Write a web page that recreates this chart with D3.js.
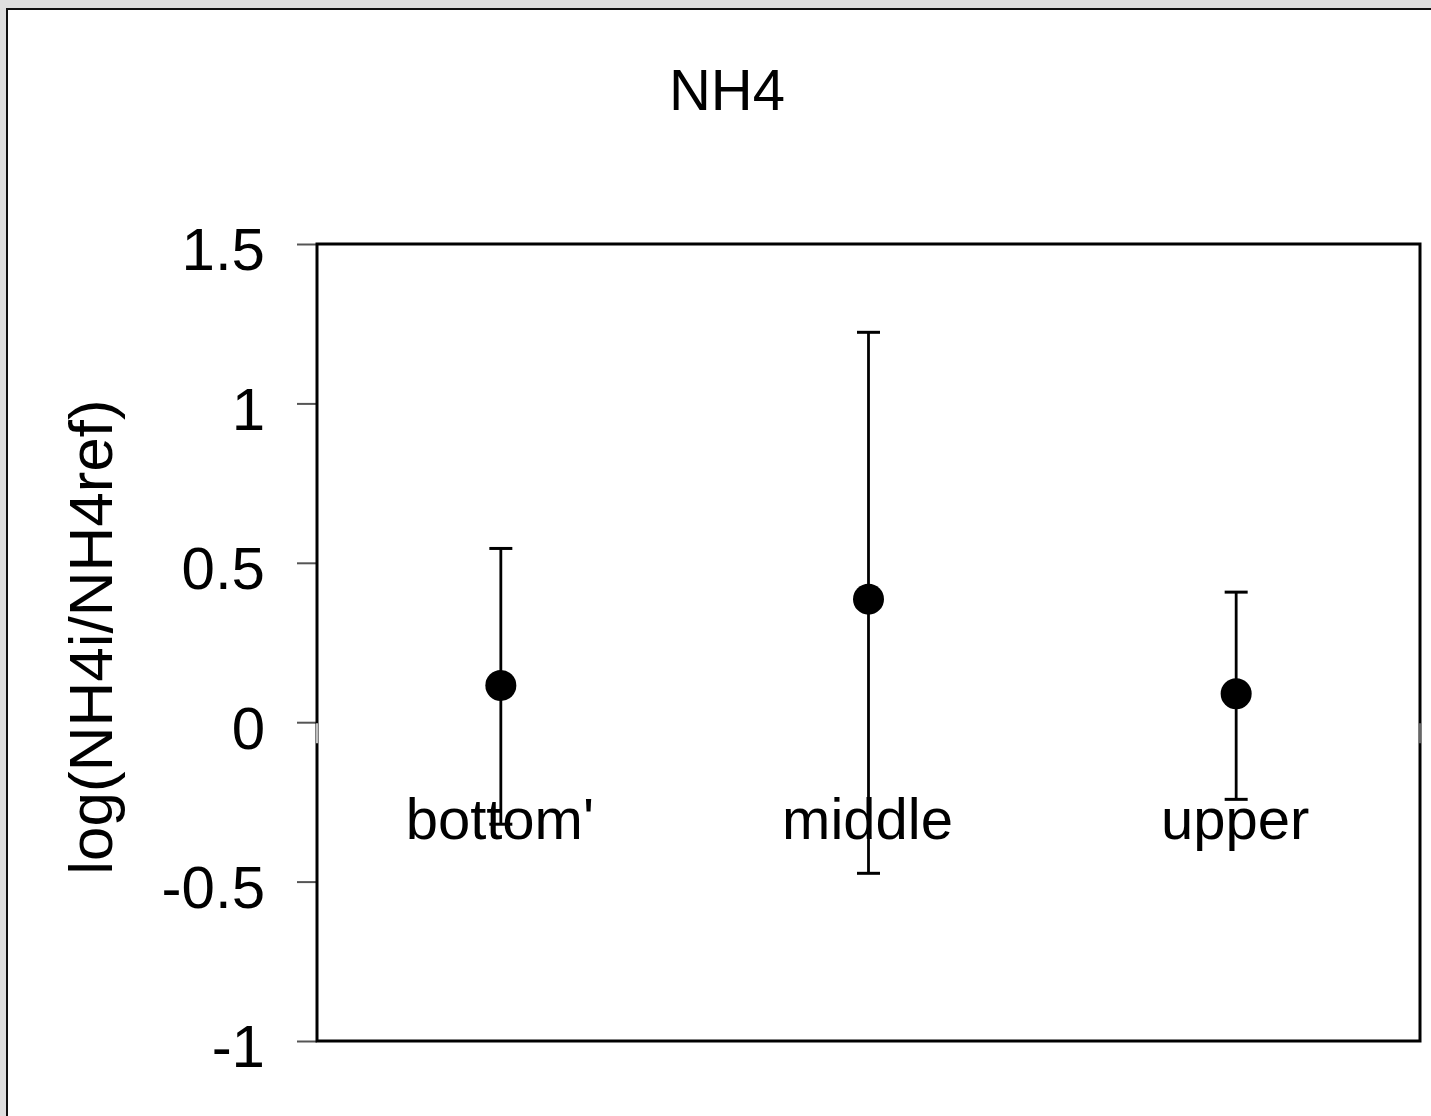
<!DOCTYPE html>
<html>
<head>
<meta charset="utf-8">
<script src="https://cdn.jsdelivr.net/npm/d3@7"></script>
<style>
  html, body { margin: 0; padding: 0; background: #dfdfdf; overflow: hidden; }
  svg { display: block; }
  text { font-family: "Liberation Sans", Arial, sans-serif; fill: #000; }
</style>
</head>
<body>
<script>
// Mean log ratio per layer with its lower / upper error limits
const categories = ["bottom'", "middle", "upper"];
const means = [0.115, 0.386, 0.089];
const lowers = [-0.32, -0.474, -0.242];
const uppers = [0.545, 1.223, 0.408];
const yTicks = [-1, -0.5, 0, 0.5, 1, 1.5];
const yTickLabels = ["-1", "-0.5", "0", "0.5", "1", "1.5"];
const title = "NH4";
const yLabel = "log(NH4i/NH4ref)";

const W = 1431, H = 1116;
const plot = { left: 317, right: 1420, top: 244, bottom: 1041 };

const svg = d3.select("body").append("svg").attr("width", W).attr("height", H);

// white sheet with a dark frame on top/left
svg.append("rect")
  .attr("x", 7).attr("y", 9).attr("width", W + 40).attr("height", H + 40)
  .attr("fill", "#fff").attr("stroke", "#111").attr("stroke-width", 2);

const x = d3.scaleBand().domain(categories).range([plot.left, plot.right]);
const y = d3.scaleLinear().domain([-1, 1.5]).range([plot.bottom, plot.top]);

// title
svg.append("text")
  .attr("x", 727).attr("y", 110)
  .attr("text-anchor", "middle")
  .attr("font-size", 58)
  .text(title);

// y axis ticks and labels
const yAxis = d3.axisLeft(y)
  .tickValues(yTicks)
  .tickSize(20)
  .tickPadding(32)
  .tickFormat((d, i) => yTickLabels[i]);
const gy = svg.append("g").attr("transform", `translate(${plot.left},0)`).call(yAxis);
gy.select(".domain").remove();
gy.selectAll(".tick line").attr("stroke", "#555").attr("stroke-width", 2);
gy.selectAll(".tick text")
  .attr("font-size", 60)
  .attr("font-family", "Liberation Sans, Arial, sans-serif")
  .attr("fill", "#000")
  .attr("dy", "0.43em");

// y axis title
svg.append("text")
  .attr("transform", `translate(112,637) rotate(-90)`)
  .attr("text-anchor", "middle")
  .attr("font-size", 62)
  .text(yLabel);

// category axis at zero, drawn in white
const gx = svg.append("g").attr("transform", `translate(0,${y(0)})`);
gx.append("line")
  .attr("x1", plot.left + 1).attr("x2", plot.right - 1)
  .attr("stroke", "#fff").attr("stroke-width", 1.5);

// plot frame
svg.append("rect")
  .attr("x", plot.left).attr("y", plot.top)
  .attr("width", plot.right - plot.left).attr("height", plot.bottom - plot.top)
  .attr("fill", "none").attr("stroke", "#000").attr("stroke-width", 3);
// white zero-axis end ticks over the frame
[plot.left, plot.right].forEach(px => {
  svg.append("line")
    .attr("x1", px).attr("x2", px).attr("y1", y(0) + 1).attr("y2", y(0) + 21)
    .attr("stroke", px === plot.left ? "#fff" : "#888").attr("stroke-width", 1.5);
});

// category labels
svg.append("g").selectAll("text").data(categories).join("text")
  .attr("x", d => x(d) + x.bandwidth() / 2 - 1)
  .attr("y", y(0) + 117)
  .attr("text-anchor", "middle")
  .attr("font-size", 58)
  .text(d => d);

// error bars and markers
const data = categories.map((c, i) => ({ c, m: means[i], lo: lowers[i], hi: uppers[i] }));
const g = svg.append("g");
const cx = d => x(d.c) + x.bandwidth() / 2;
g.selectAll("line.stem").data(data).join("line")
  .attr("class", "stem")
  .attr("x1", cx).attr("x2", cx)
  .attr("y1", d => y(d.lo)).attr("y2", d => y(d.hi))
  .attr("stroke", "#000").attr("stroke-width", 2.8);
["lo", "hi"].forEach(k => {
  g.selectAll("line.cap-" + k).data(data).join("line")
    .attr("class", "cap-" + k)
    .attr("x1", d => cx(d) - 11.5).attr("x2", d => cx(d) + 11.5)
    .attr("y1", d => y(d[k])).attr("y2", d => y(d[k]))
    .attr("stroke", "#000").attr("stroke-width", 3);
});
g.selectAll("circle").data(data).join("circle")
  .attr("cx", cx).attr("cy", d => y(d.m))
  .attr("r", 15.5)
  .attr("fill", "#000");
</script>
</body>
</html>
